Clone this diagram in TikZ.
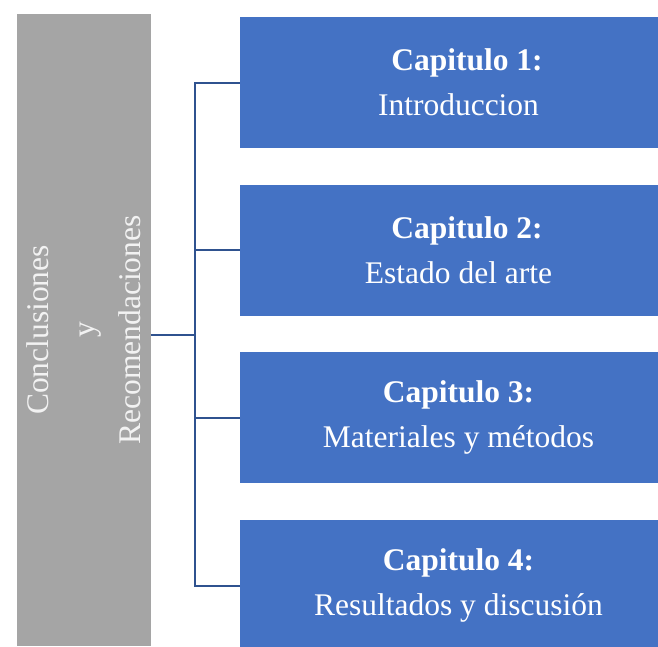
\documentclass[tikz,border=0pt]{standalone}
\usepackage{fontspec}
\setmainfont{Liberation Serif}
\definecolor{azulcap}{HTML}{4472C4}
\definecolor{grisbloque}{HTML}{A5A5A5}
\definecolor{azullinea}{HTML}{2F528F}
\definecolor{textogris}{HTML}{F2F2F2}
\tikzset{
  capitulo/.style={rectangle, fill=azulcap, minimum width=418pt, minimum height=131pt, inner sep=0pt},
  texto/.style={align=center, text=white, inner sep=0pt, font=\fontsize{31.5pt}{45pt}\selectfont},
  bloque/.style={rectangle, fill=grisbloque, rotate=90, minimum width=632pt, minimum height=134pt, inner sep=0pt, align=center, text=textogris, font=\fontsize{31.5pt}{46pt}\selectfont},
  conector/.style={draw=azullinea, line width=2pt}
}

\begin{document}
\begin{tikzpicture}[x=1pt, y=-1pt]
    \useasboundingbox (0,0) rectangle (658,646);

    % Bloque gris vertical
    \node[bloque] (gris) at (84,330) {Conclusiones\\y\\Recomendaciones};

    % Bloques de capitulos
    \foreach \i/\dx/\tit/\sub in {
        1/17/Capitulo 1:/Introduccion,
        2/17/Capitulo 2:/Estado del arte,
        3/0/Capitulo 3:/Materiales y métodos,
        4/0/Capitulo 4:/Resultados y discusión
    } {
        \node[capitulo] (cap\i) at (449, {82.5+(\i-1)*167.7}) {};
        \node[texto] (txt\i) at ([xshift=9.5pt]cap\i.center) {\hspace*{\dx pt}\textbf{\tit}\\\sub};
    }

    % Conectores
    \coordinate (bus) at (195,334.5);
    \draw[conector] (cap1.west) -| (bus) |- (cap4.west);
    \draw[conector] (bus |- cap2.west) -- (cap2.west);
    \draw[conector] (bus |- cap3.west) -- (cap3.west);
    \draw[conector] (gris.south |- bus) -- (bus);
\end{tikzpicture}
\end{document}
